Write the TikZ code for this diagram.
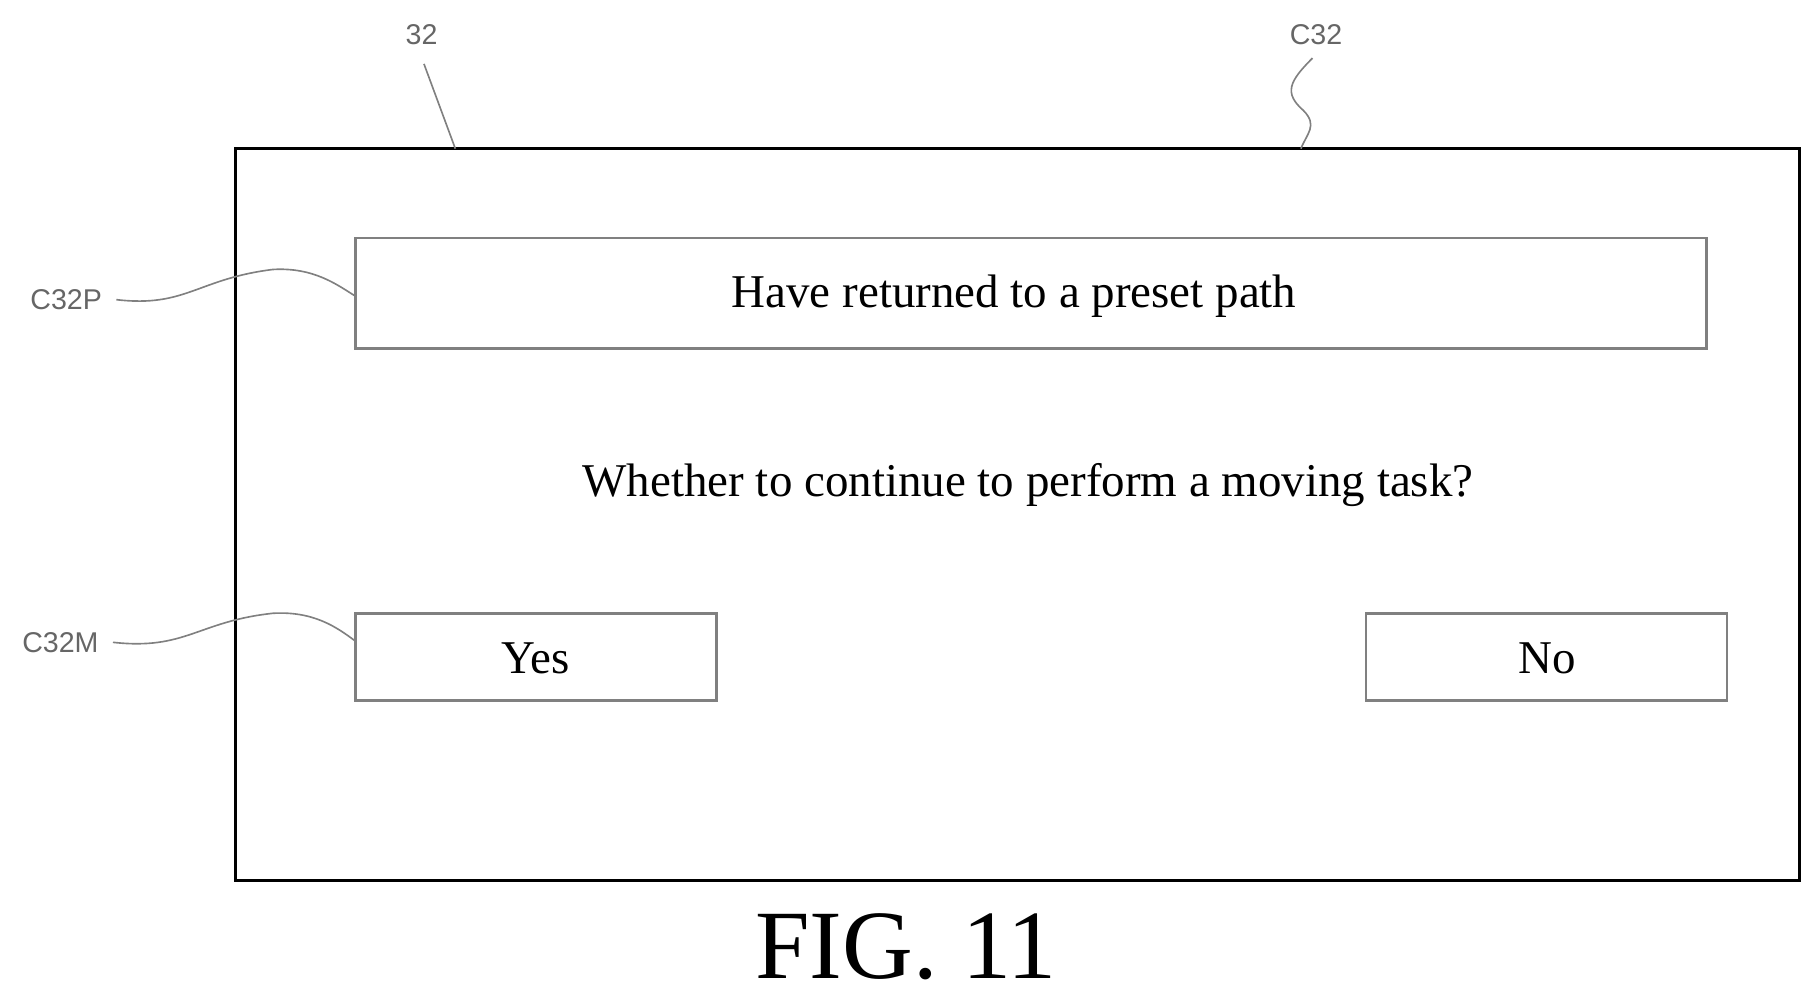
\documentclass[tikz,border=0pt]{standalone}
\usepackage{fontspec}
\setmainfont{Liberation Serif}
\setsansfont{Liberation Sans}
\begin{document}
\begin{tikzpicture}[x=0.01cm,y=-0.01cm,
	panel/.style={draw, line width=0.8pt},
	field/.style={draw=gray, line width=0.6pt},
	say/.style={font=\fontsize{11.5}{13}\selectfont},
	tag/.style={font=\sffamily\fontsize{7}{8}\selectfont, text=gray!80!black},
	leader/.style={gray, line width=0.4pt}]
	\useasboundingbox (0,0) rectangle (1560,861);
	% screen
	\draw [panel] (203,128) rectangle (1549,758);
	% fields
	\draw [field] (306,205) rectangle (1469,300);
	\node [say] (msg) at (873,255) {Have returned to a preset path};
	\node [say] (ask) at (885,418) {Whether to continue to perform a moving task?};
	\draw [field] (306,528) rectangle (617,603);
	\node [say] (yes) at (461,567) {Yes};
	\draw [field] (1176,528) rectangle (1487,603);
	\node [say] (no) at (1332,567) {No};
	% reference labels
	\node [tag] (t32) at (363,30) {32};
	\node [tag] (tC32) at (1133,30) {C32};
	\node [tag] (tC32P) at (57,258) {C32P};
	\node [tag] (tC32M) at (52,553) {C32M};
	\draw [leader] (365,55) -- (392,128);
	\draw [leader] (1130,50) .. controls (1110,70) and (1105,80) .. (1122,95) .. controls (1135,108) and (1125,115) .. (1120,128);
	\draw [leader] (tC32P.east) .. controls (160,265) and (170,240) .. (235,232) .. controls (270,230) and (290,245) .. (306,255);
	\draw [leader] (tC32M.east) .. controls (160,560) and (170,535) .. (235,528) .. controls (270,526) and (290,540) .. (306,552);
	% caption
	\node [font=\fontsize{24}{28}\selectfont] (fig) at (780,815) {FIG. 11};
\end{tikzpicture}
\end{document}
